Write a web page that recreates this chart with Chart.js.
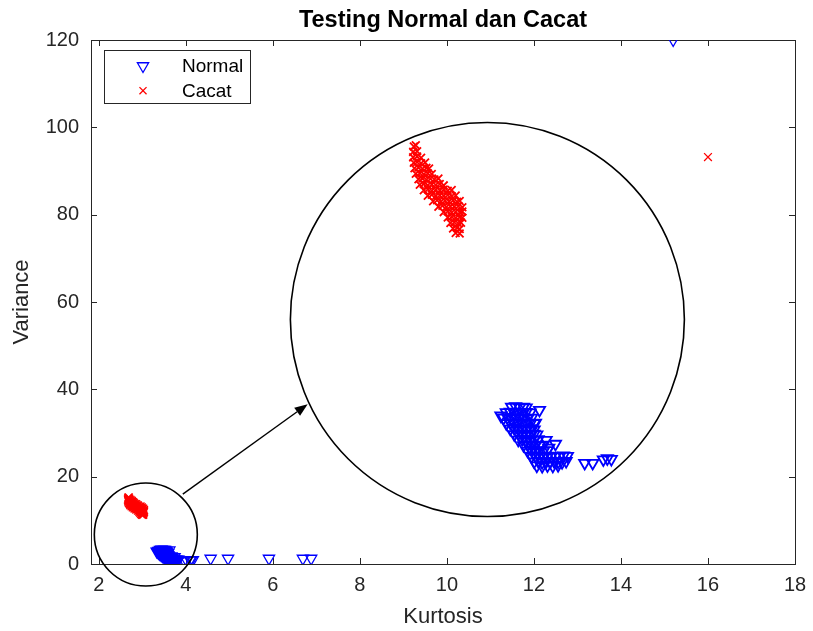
<!DOCTYPE html>
<html>
<head>
<meta charset="utf-8">
<script src="https://cdn.jsdelivr.net/npm/chart.js@4.4.0/dist/chart.umd.min.js"></script>
<style>
html, body { margin: 0; padding: 0; background: #fff; }
</style>
</head>
<body>
<canvas id="myChart" width="813" height="631"></canvas>
<script>
// values
var xTicks = [2, 4, 6, 8, 10, 12, 14, 16, 18]
var yTicks = [0, 20, 40, 60, 80, 100, 120]
var legendLabels = ['Normal', 'Cacat']

var normalKurtosis = [
    3.41, 3.44, 3.47, 3.50, 3.52,
    3.37, 3.40, 3.43, 3.46, 3.49, 3.52, 3.55,
    3.35, 3.38, 3.41, 3.44, 3.47, 3.50, 3.53, 3.56,
    3.37, 3.40, 3.43, 3.46, 3.49, 3.52, 3.55, 3.58,
    3.40, 3.43, 3.46, 3.49, 3.52, 3.55, 3.58,
    3.43, 3.46, 3.49, 3.52, 3.55, 3.58, 3.60,
    3.46, 3.49, 3.52, 3.55, 3.58, 3.61,
    3.50, 3.53, 3.56, 3.59, 3.62, 3.64,
    3.53, 3.56, 3.59, 3.62, 3.65, 3.68,
    3.56, 3.59, 3.62, 3.65, 3.68, 3.71, 3.74, 3.77, 3.80, 3.83,
    3.58, 3.61, 3.64, 3.67, 3.70, 3.73, 3.76, 3.79, 3.82,
    3.60, 3.64, 3.68, 3.72, 3.76,
    3.62, 3.33, 3.59, 3.67, 3.74, 3.69,
    3.96, 4.02, 4.10, 4.13, 4.16,
    4.57, 4.97, 5.91, 6.69, 6.88,
    15.2
]
var normalVariance = [
    3.30, 3.33, 3.28, 3.31, 3.27,
    3.05, 3.08, 3.03, 3.06, 3.02, 3.07, 3.04,
    2.80, 2.83, 2.78, 2.82, 2.79, 2.81, 2.77, 2.80,
    2.55, 2.58, 2.53, 2.56, 2.52, 2.57, 2.54, 2.55,
    2.30, 2.33, 2.28, 2.31, 2.29, 2.32, 2.27,
    2.05, 2.08, 2.03, 2.06, 2.02, 2.07, 2.04,
    1.80, 1.83, 1.78, 1.81, 1.79, 1.82,
    1.55, 1.58, 1.53, 1.56, 1.54, 1.57,
    1.30, 1.33, 1.28, 1.31, 1.29, 1.32,
    1.05, 1.08, 1.03, 1.06, 1.04, 1.07, 1.05, 1.03, 1.08, 1.06,
    0.80, 0.83, 0.78, 0.81, 0.79, 0.82, 0.80, 0.78, 0.83,
    0.62, 0.60, 0.63, 0.61, 0.64,
    3.16, 2.90, 2.57, 1.79, 1.61, 1.43,
    0.74, 0.74, 0.90, 0.95, 0.92,
    1.26, 1.26, 1.26, 1.26, 1.26,
    120
]

var cacatKurtosis = [
    2.675, 2.69,
    2.67, 2.70,
    2.67, 2.70, 2.73,
    2.675, 2.70, 2.73, 2.76,
    2.68, 2.71, 2.74, 2.77, 2.79,
    2.69, 2.72, 2.75, 2.78, 2.81,
    2.71, 2.74, 2.77, 2.80, 2.83, 2.86,
    2.72, 2.75, 2.78, 2.81, 2.84, 2.87, 2.90,
    2.75, 2.78, 2.81, 2.84, 2.87, 2.90, 2.93, 2.96,
    2.78, 2.81, 2.84, 2.87, 2.90, 2.93, 2.96, 2.99,
    2.82, 2.85, 2.88, 2.91, 2.94, 2.97, 3.00, 3.02,
    2.86, 2.89, 2.92, 2.95, 2.98, 3.01, 3.04,
    2.90, 2.93, 2.96, 2.99, 3.02, 3.04,
    2.93, 2.96, 2.99, 3.02, 3.04,
    2.95, 2.98, 3.01, 3.03,
    2.97, 3.00, 3.02,
    2.99, 3.02,
    16.0
]
var cacatVariance = [
    15.20, 15.25,
    14.95, 14.98,
    14.70, 14.74, 14.68,
    14.45, 14.49, 14.43, 14.47,
    14.20, 14.24, 14.18, 14.22, 14.19,
    13.95, 13.99, 13.93, 13.97, 13.94,
    13.70, 13.74, 13.68, 13.72, 13.69, 13.73,
    13.45, 13.49, 13.43, 13.47, 13.44, 13.48, 13.42,
    13.20, 13.24, 13.18, 13.22, 13.19, 13.23, 13.17, 13.21,
    12.95, 12.99, 12.93, 12.97, 12.94, 12.98, 12.92, 12.96,
    12.70, 12.74, 12.68, 12.72, 12.69, 12.73, 12.67, 12.71,
    12.45, 12.49, 12.43, 12.47, 12.44, 12.48, 12.42,
    12.20, 12.24, 12.18, 12.22, 12.19, 12.23,
    11.95, 11.99, 11.93, 11.97, 11.94,
    11.70, 11.74, 11.68, 11.72,
    11.45, 11.49, 11.43,
    11.25, 11.22,
    93.2
]

// zoom window shown inside the big circle (data range of the magnified view)
var insetKurtosisRange = [0.248, 5.541]
var insetVarianceRange = [-3.87, 20.06]

var FONT = 'Liberation Sans, Arial, sans-serif'
var AXIS = '#262626'

function pairs(xs, ys) {
    return xs.map((x, i) => ({ x: x, y: ys[i] }))
}

// circles + arrow, centres given in data units
var smallCircle = { k: 3.08, v: 6.75, r: 51.5 }
var bigCircle = { k: 10.93, v: 56.0, r: 197 }
var arrowFrom = { k: 3.93, v: 16.0 }
var arrowTo = { k: 6.8, v: 36.6 }

function px(chart, p) {
    return { x: chart.scales.x.getPixelForValue(p.k), y: chart.scales.y.getPixelForValue(p.v) }
}

var axesBox = {
    id: 'axesBox',
    beforeDatasetsDraw(chart) {
        let ctx = chart.ctx, a = chart.chartArea
        ctx.save()
        ctx.strokeStyle = AXIS
        ctx.lineWidth = 1
        ctx.strokeRect(Math.round(a.left) + 0.5, Math.round(a.top) + 0.5, Math.round(a.right - a.left), Math.round(a.bottom - a.top))
        ctx.beginPath()
        xTicks.forEach(v => {
            let x = Math.round(chart.scales.x.getPixelForValue(v)) + 0.5
            ctx.moveTo(x, a.bottom); ctx.lineTo(x, a.bottom - 6)
            ctx.moveTo(x, a.top); ctx.lineTo(x, a.top + 6)
        })
        yTicks.forEach(v => {
            let y = Math.round(chart.scales.y.getPixelForValue(v)) + 0.5
            ctx.moveTo(a.left, y); ctx.lineTo(a.left + 6, y)
            ctx.moveTo(a.right, y); ctx.lineTo(a.right - 6, y)
        })
        ctx.stroke()

        // white disc for the magnified view
        let c = px(chart, bigCircle)
        ctx.fillStyle = '#fff'
        ctx.beginPath()
        ctx.arc(c.x, c.y, bigCircle.r, 0, Math.PI * 2)
        ctx.fill()
        ctx.restore()
    }
}

var insetClip = {
    id: 'insetClip',
    beforeDatasetDraw(chart, args) {
        if (!chart.data.datasets[args.index].inset) return
        let ctx = chart.ctx, c = px(chart, bigCircle)
        ctx.save()
        ctx.beginPath()
        ctx.arc(c.x, c.y, bigCircle.r - 1, 0, Math.PI * 2)
        ctx.clip()
    },
    afterDatasetDraw(chart, args) {
        if (!chart.data.datasets[args.index].inset) return
        chart.ctx.restore()
    }
}

function drawMarker(ctx, style, x, y, r, color) {
    ctx.save()
    ctx.strokeStyle = color
    ctx.lineWidth = 1.3
    ctx.beginPath()
    if (style == 'tri') {
        let s = r * Math.sin(Math.PI / 3), c = r * 0.5
        ctx.moveTo(x, y + r)
        ctx.lineTo(x - s, y - c)
        ctx.lineTo(x + s, y - c)
        ctx.closePath()
    } else {
        let d = r * Math.SQRT1_2
        ctx.moveTo(x - d, y - d); ctx.lineTo(x + d, y + d)
        ctx.moveTo(x + d, y - d); ctx.lineTo(x - d, y + d)
    }
    ctx.stroke()
    ctx.restore()
}

var overlay = {
    id: 'overlay',
    afterDraw(chart) {
        let ctx = chart.ctx, a = chart.chartArea
        ctx.save()
        ctx.strokeStyle = '#000'
        ctx.lineWidth = 1.6
        let s = px(chart, smallCircle), b = px(chart, bigCircle)
        ctx.beginPath(); ctx.arc(s.x, s.y, smallCircle.r, 0, Math.PI * 2); ctx.stroke()
        ctx.beginPath(); ctx.arc(b.x, b.y, bigCircle.r, 0, Math.PI * 2); ctx.stroke()

        // arrow
        let p0 = px(chart, arrowFrom), p1 = px(chart, arrowTo)
        let ang = Math.atan2(p1.y - p0.y, p1.x - p0.x), hl = 13, hw = 5
        let bx = p1.x - hl * Math.cos(ang), by = p1.y - hl * Math.sin(ang)
        ctx.lineWidth = 1.4
        ctx.beginPath(); ctx.moveTo(p0.x, p0.y); ctx.lineTo(bx, by); ctx.stroke()
        ctx.fillStyle = '#000'
        ctx.beginPath()
        ctx.moveTo(p1.x, p1.y)
        ctx.lineTo(bx + hw * Math.sin(ang), by - hw * Math.cos(ang))
        ctx.lineTo(bx - hw * Math.sin(ang), by + hw * Math.cos(ang))
        ctx.closePath(); ctx.fill()

        // legend box
        let lx = a.left + 13, ly = a.top + 10
        ctx.fillStyle = '#fff'
        ctx.fillRect(lx, ly, 146, 53)
        ctx.strokeStyle = AXIS
        ctx.lineWidth = 1
        ctx.strokeRect(Math.round(lx) + 0.5, Math.round(ly) + 0.5, 146, 53)
        ctx.font = '19px ' + FONT
        ctx.fillStyle = '#000'
        ctx.textBaseline = 'middle'
        drawMarker(ctx, 'tri', lx + 39, ly + 16, 6.5, '#0000ff')
        ctx.fillText(legendLabels[0], lx + 78, ly + 17)
        drawMarker(ctx, 'x', lx + 39, ly + 40.7, 5, '#ff0000')
        ctx.fillText(legendLabels[1], lx + 78, ly + 41.5)
        ctx.restore()
    }
}

function makeDataset(label, xs, ys, color, style, inset) {
    return {
        label: label,
        data: pairs(xs, ys),
        xAxisID: inset ? 'xi' : 'x',
        yAxisID: inset ? 'yi' : 'y',
        inset: inset,
        order: inset ? 1 : 2,
        showLine: false,
        pointStyle: style,
        rotation: style == 'triangle' ? 180 : 0,
        pointRadius: style == 'triangle' ? 6.5 : 5.5,
        pointBorderWidth: inset ? 1.8 : 1.3,
        pointBackgroundColor: 'rgba(0,0,0,0)',
        pointBorderColor: color,
        borderColor: color,
        backgroundColor: 'rgba(0,0,0,0)'
    }
}

let ctx = document.getElementById('myChart').getContext('2d')
let myChart = new Chart(ctx, {
    type: 'scatter',
    data: {
        datasets: [
            makeDataset(legendLabels[0], normalKurtosis, normalVariance, '#0000ff', 'triangle', false),
            makeDataset(legendLabels[1], cacatKurtosis, cacatVariance, '#ff0000', 'crossRot', false),
            makeDataset(legendLabels[0], normalKurtosis, normalVariance, '#0000ff', 'triangle', true),
            makeDataset(legendLabels[1], cacatKurtosis, cacatVariance, '#ff0000', 'crossRot', true)
        ]
    },
    options: {
        responsive: false,
        animation: false,
        events: [],
        layout: { padding: { left: 0, right: 18, top: 0, bottom: 0 } },
        plugins: {
            legend: { display: false },
            tooltip: { enabled: false },
            title: {
                display: true,
                fullSize: false,
                text: 'Testing Normal dan Cacat',
                color: '#000',
                font: { family: FONT, size: 23.5, weight: 'bold' },
                padding: { top: 6, bottom: 5.8 }
            }
        },
        scales: {
            x: {
                type: 'linear', position: 'bottom', min: 1.82, max: 18,
                afterBuildTicks: s => { s.ticks = xTicks.map(v => ({ value: v })) },
                afterFit: s => { s.height = 67; s.paddingLeft = 0; s.paddingRight = 0 },
                grid: { display: false, drawTicks: false },
                border: { display: false },
                ticks: { color: AXIS, font: { family: FONT, size: 20 }, padding: 9, maxRotation: 0, autoSkip: false },
                title: { display: true, text: 'Kurtosis', color: AXIS, font: { family: FONT, size: 22 }, padding: { top: 0, bottom: 1 } }
            },
            y: {
                type: 'linear', position: 'left', min: 0, max: 120,
                afterBuildTicks: s => { s.ticks = yTicks.map(v => ({ value: v })) },
                afterFit: s => { s.width = 91; s.paddingTop = 0; s.paddingBottom = 0 },
                grid: { display: false, drawTicks: false },
                border: { display: false },
                ticks: { color: AXIS, font: { family: FONT, size: 20 }, padding: 12 },
                title: { display: true, text: 'Variance', color: AXIS, font: { family: FONT, size: 22 }, padding: { top: 9, bottom: 0 } }
            },
            xi: { type: 'linear', axis: 'x', position: 'bottom', display: false, min: insetKurtosisRange[0], max: insetKurtosisRange[1] },
            yi: { type: 'linear', axis: 'y', position: 'left', display: false, min: insetVarianceRange[0], max: insetVarianceRange[1] }
        }
    },
    plugins: [axesBox, insetClip, overlay]
})
</script>
</body>
</html>
